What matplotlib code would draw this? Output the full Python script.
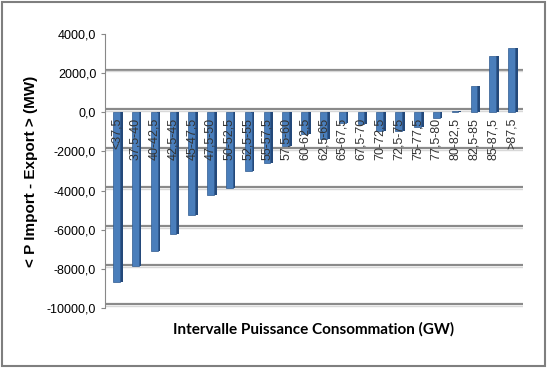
import matplotlib.pyplot as plt
from matplotlib.patches import Rectangle
from matplotlib.ticker import FuncFormatter
import numpy as np

categories = ["<37,5", "37,5-40", "40-42,5", "42,5-45", "45-47,5", "47,5-50",
              "50-52,5", "52,5-55", "55-57,5", "57,5-60", "60-62,5", "62,5-65",
              "65-67,5", "67,5-70", "70-72,5", "72,5-75", "75-77,5", "77,5-80",
              "80-82,5", "82,5-85", "85-87,5", ">87,5"]
values = [-8650, -7850, -7100, -6200, -5250, -4250, -3850, -3000, -2600, -1700,
          -1100, -1350, -550, -600, -950, -950, -750, -300, 80, 1350, 2900, 3300]
y_ticks = [4000, 2000, 0, -2000, -4000, -6000, -8000, -10000]

plt.rcParams['font.family'] = ['Liberation Sans', 'DejaVu Sans']

fig = plt.figure(figsize=(5.48, 3.83), dpi=100)
ax = fig.add_axes([0.192, 0.196, 0.762, 0.715])

x = np.arange(len(categories))
w = 0.36

# back wall grid lines (slightly shifted for a 3D look)
for t in y_ticks:
    ax.axhline(t + 180, color='#8a8a8a', lw=1.6, zorder=0)
    ax.axhline(t + 90, color='#d8d8d8', lw=1.0, zorder=0)

# bar side faces and fronts
ax.bar(x + w / 2 + 0.07, values, width=0.15, color='#24497a', zorder=2)
ax.bar(x, values, width=w, color='#4a7ebb', edgecolor='#2f5a8f', lw=0.5, zorder=3)

# category labels written inside the plot, just below zero
for xi, lab in zip(x, categories):
    ax.text(xi, -280, lab, rotation=90, ha='center', va='top',
            fontsize=9, color='#333333', zorder=4)

ax.set_xlim(-0.6, len(categories) - 0.4)
ax.set_ylim(-10000, 4000)
ax.set_yticks(y_ticks)
ax.yaxis.set_major_formatter(FuncFormatter(lambda v, p: f"{v:.1f}".replace('.', ',')))
ax.tick_params(axis='y', labelsize=9, length=3, color='#888888')
ax.set_xticks([])
for s in ['top', 'right', 'bottom']:
    ax.spines[s].set_visible(False)
ax.spines['left'].set_color('#888888')

ax.set_ylabel("< P Import - Export > (MW)", fontsize=11, fontweight='bold', labelpad=6)
ax.set_xlabel("Intervalle Puissance Consommation (GW)", fontsize=11,
              fontweight='bold', labelpad=10, family=['Lato', 'DejaVu Sans'])

# outer frame
fig.patches.append(Rectangle((0.004, 0.045), 0.99, 0.95, transform=fig.transFigure,
                             fill=False, ec='#7f7f7f', lw=1.5))

fig.savefig("out.png", dpi=100)
